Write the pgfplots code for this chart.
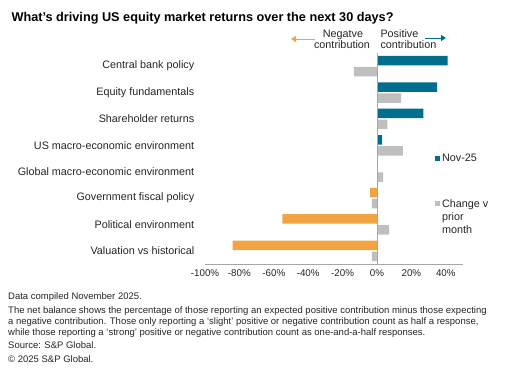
\documentclass[border=0pt]{standalone}
\usepackage{fontspec}
\setmainfont{Liberation Sans}
\usepackage{pgfplots}
\pgfplotsset{compat=1.18}
\usetikzlibrary{arrows.meta}
\definecolor{spteal}{HTML}{006E8C}
\definecolor{sporange}{HTML}{F2A444}
\definecolor{spgrey}{HTML}{BFBFBF}
\definecolor{axgrey}{HTML}{A6A6A6}
\newcommand{\fs}[1]{\fontsize{#1bp}{1.2\dimexpr#1bp\relax}\selectfont}
\begin{document}
\begin{tikzpicture}[x=1bp,y=1bp]
\path[use as bounding box, fill=white] (0,0) rectangle (517,379);
\begin{axis}[
  at={(205bp,115bp)}, anchor=south west,
  scale only axis, width=258bp, height=211bp,
  xbar, bar width=9.5bp,
  xmin=-100, xmax=50, ymin=-0.5, ymax=7.5,
  axis x line*=bottom, axis y line*=left,
  x axis line style={axgrey, -}, y axis line style={draw=none},
  xtick style={draw=none}, ytick style={draw=none},
  xtick={-100,-80,...,40},
  xticklabel={\pgfmathprintnumber{\tick}\%},
  /pgf/number format/assume math mode=true,
  ytick={0,...,7},
  yticklabels={Valuation vs historical, Political environment, Government fiscal policy, Global macro-economic environment, US macro-economic environment, Shareholder returns, Equity fundamentals, Central bank policy},
  xticklabel style={font=\fs{9.8}, text=black!85, yshift=-2bp},
  yticklabel style={font=\fs{10.8}, text=black!85, xshift=-3bp},
  legend style={at={(axis description cs:0.891,0.53)}, anchor=north west, draw=none, fill=none,
    font=\fontsize{10.8bp}{13bp}\selectfont, text=black!85, row sep=31bp, inner sep=0pt,
    cells={anchor=west}},
  legend image code/.code={\fill[#1] (0bp,-2.5bp) rectangle (5bp,2.5bp);},
]
\addplot[fill=spteal, draw=none, bar shift=5.5bp] coordinates {(41,7) (35,6) (27,5) (3,4) (0,3)};
\addlegendentry{Nov-25}
\addplot[fill=sporange, draw=none, bar shift=5.5bp, forget plot] coordinates {(-4,2) (-55,1) (-84,0)};
\addplot[fill=spgrey, draw=none, bar shift=-5.5bp] coordinates {(-13.5,7) (14,6) (6,5) (15,4) (3.5,3) (-3,2) (7,1) (-3,0)};
\addlegendentry{\begin{tabular}[t]{@{}l@{}}Change v\\prior\\month\end{tabular}}
\draw[axgrey] (axis cs:0,-0.5) -- (axis cs:0,7.5);
\end{axis}
\node[anchor=base west, font=\bfseries\fs{12.7}] at (8,358) {What’s driving US equity market returns over the next 30 days?};
\node[anchor=base, font=\fs{10.8}, text=black!85] at (343,342) {Negatve};
\node[anchor=base, font=\fs{10.8}, text=black!85] at (342,331) {contribution};
\node[anchor=base west, font=\fs{10.8}, text=black!85] at (377,342) {Positive};
\node[anchor=base west, font=\fs{10.8}, text=black!85] at (377,331) {contribution};
\draw[sporange, line width=1bp, -{Triangle[length=5bp,width=6bp]}] (315,340) -- (291,340);
\draw[spteal, line width=1bp, -{Triangle[length=5bp,width=6bp]}] (425,341) -- (446,341);
\begin{scope}[every node/.style={anchor=base west, font=\fs{9.5}, text=black!85, inner sep=0pt}]
\node at (8,80) {Data compiled November 2025.};
\node at (8,66) {The net balance shows the percentage of those reporting an expected positive contribution minus those expecting};
\node at (8,55) {a negative contribution. Those only reporting a ‘slight’ positive or negative contribution count as half a response,};
\node at (8,44) {while those reporting a ‘strong’ positive or negative contribution count as one-and-a-half responses.};
\node at (8,31) {Source: S\&P Global.};
\node at (8,17) {© 2025 S\&P Global.};
\end{scope}
\end{tikzpicture}
\end{document}
